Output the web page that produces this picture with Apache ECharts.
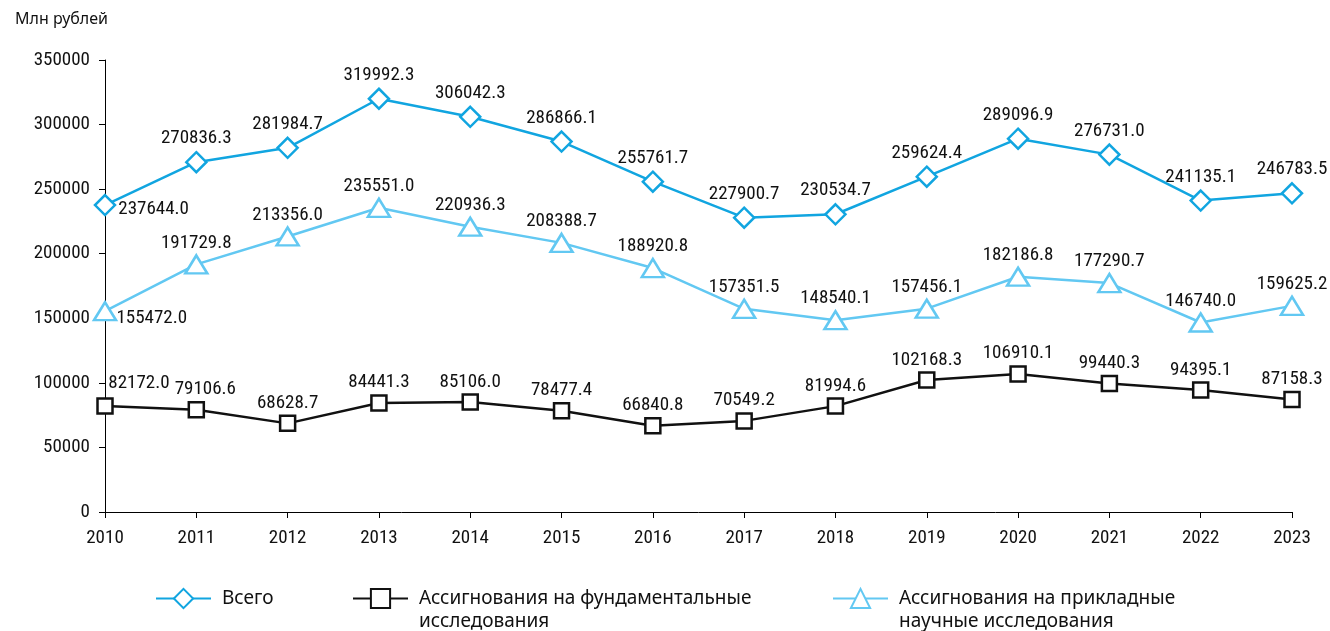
<!DOCTYPE html>
<html>
<head>
<meta charset="utf-8">
<script src="https://cdn.jsdelivr.net/npm/echarts@6/dist/echarts.min.js"></script>
<style>
  html, body { margin: 0; padding: 0; background: #fff; }
  #chart { width: 1330px; height: 631px; }
</style>
</head>
<body>
<div id="chart"></div>
<script>
// Years on the category axis
const years = ['2010','2011','2012','2013','2014','2015','2016','2017','2018','2019','2020','2021','2022','2023'];

// Total budget allocations, mln rubles
const totalValues = [237644.0, 270836.3, 281984.7, 319992.3, 306042.3, 286866.1, 255761.7, 227900.7, 230534.7, 259624.4, 289096.9, 276731.0, 241135.1, 246783.5];
// Fundamental research allocations
const fundamentalValues = [82172.0, 79106.6, 68628.7, 84441.3, 85106.0, 78477.4, 66840.8, 70549.2, 81994.6, 102168.3, 106910.1, 99440.3, 94395.1, 87158.3];
// Applied research allocations
const appliedValues = [155472.0, 191729.8, 213356.0, 235551.0, 220936.3, 208388.7, 188920.8, 157351.5, 148540.1, 157456.1, 182186.8, 177290.7, 146740.0, 159625.2];

const seriesNames = ['Всего', 'Ассигнования на фундаментальные\nисследования', 'Ассигнования на прикладные\nнаучные исследования'];

const numFont = '"Liberation Sans Narrow", "Arial Narrow", "Roboto Condensed", "Liberation Sans", sans-serif';
const textFont = '"Noto Sans", "Open Sans", sans-serif';

const labelFmt = p => p.value.toFixed(1);

// Individual label placements keyed by point index
function withLabels(values, overrides) {
  return values.map((v, i) => overrides[i] ? { value: v, label: overrides[i] } : v);
}

function makeLabel(distance) {
  return {
    show: true,
    position: 'top',
    distance: distance,
    color: '#111',
    fontFamily: numFont,
    fontSize: 19,
    formatter: labelFmt
  };
}

const legendText = { fontFamily: textFont, fontSize: 19, color: '#111', lineHeight: 23, padding: [0, 0, 0, 6] };
// Two-line legend entries: a leading blank line keeps the first line level with the icon
const twoLine = name => '\n' + name;

const chart = echarts.init(document.getElementById('chart'));

chart.setOption({
  animation: false,
  backgroundColor: '#fff',
  title: {
    text: 'Млн рублей',
    left: 10,
    top: 6,
    textStyle: { fontFamily: textFont, fontSize: 16, fontWeight: 'normal', color: '#111' }
  },
  grid: { left: 105, right: 38, top: 60, bottom: 119 },
  xAxis: {
    type: 'category',
    data: years,
    boundaryGap: false,
    axisLine: { lineStyle: { color: '#000', width: 1 } },
    axisTick: { show: true, length: 6, alignWithLabel: true, lineStyle: { color: '#000' } },
    axisLabel: { color: '#111', fontFamily: numFont, fontSize: 19, margin: 17 },
    splitLine: { show: false }
  },
  yAxis: {
    type: 'value',
    min: 0,
    max: 350000,
    interval: 50000,
    axisLine: { show: true, lineStyle: { color: '#000', width: 1 } },
    axisTick: { show: true, length: 6, lineStyle: { color: '#000' } },
    axisLabel: { color: '#111', fontFamily: numFont, fontSize: 19, margin: 15, formatter: v => String(v) },
    splitLine: { show: false }
  },
  legend: [
    {
      data: [seriesNames[0]],
      left: 150, top: 582,
      itemWidth: 55, itemHeight: 24, itemGap: 0,
      textStyle: legendText
    },
    {
      data: [seriesNames[1]],
      left: 347, top: 559,
      itemWidth: 55, itemHeight: 24, itemGap: 0,
      formatter: twoLine,
      textStyle: legendText
    },
    {
      data: [seriesNames[2]],
      left: 827, top: 559,
      itemWidth: 55, itemHeight: 24, itemGap: 0,
      formatter: twoLine,
      textStyle: legendText
    }
  ],
  series: [
    {
      name: seriesNames[0],
      type: 'line',
      data: withLabels(totalValues, { 0: { position: 'right', offset: [0, 4], distance: 2 } }),
      color: '#11a5e0',
      lineStyle: { width: 2.5, color: '#11a5e0' },
      symbol: 'diamond',
      symbolSize: 20,
      itemStyle: { color: '#fff', borderColor: '#11a5e0', borderWidth: 2.5 },
      label: makeLabel(3),
      z: 3
    },
    {
      name: seriesNames[1],
      type: 'line',
      data: withLabels(fundamentalValues, {
        0: { position: 'top', offset: [34, -2] },
        1: { position: 'top', offset: [9, 0] }
      }),
      color: '#111',
      lineStyle: { width: 2.5, color: '#111' },
      symbol: 'rect',
      symbolSize: 15,
      itemStyle: { color: '#fff', borderColor: '#111', borderWidth: 2.5 },
      label: makeLabel(2),
      z: 2
    },
    {
      name: seriesNames[2],
      type: 'line',
      data: withLabels(appliedValues, { 0: { position: 'right', offset: [-3, 7], distance: 2 } }),
      color: '#62c8f2',
      lineStyle: { width: 2.5, color: '#62c8f2' },
      symbol: 'triangle',
      symbolSize: [22, 18],
      itemStyle: { color: '#fff', borderColor: '#62c8f2', borderWidth: 2.5 },
      label: makeLabel(2),
      z: 2
    }
  ]
});
</script>
</body>
</html>
